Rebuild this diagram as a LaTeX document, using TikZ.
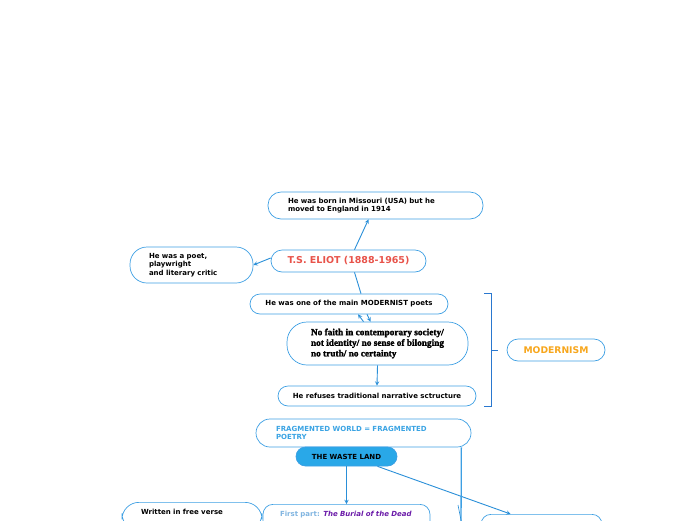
\documentclass[tikz,border=0pt]{standalone}
\usepackage{fontspec}
\setmainfont{DejaVu Sans}
\newfontfamily\heavyserif[BoldFont={* Bold}, BoldFeatures={FakeBold=2}]{Liberation Serif}
\usepackage{tikz}
\definecolor{linkblue}{HTML}{3D9FE3}
\definecolor{arrowblue}{HTML}{2A8FD8}
\definecolor{bracketblue}{HTML}{2A78CF}
\definecolor{eliotred}{HTML}{E8534A}
\definecolor{modorange}{HTML}{F7A61C}
\definecolor{fragblue}{HTML}{3AA3E3}
\definecolor{wastefill}{HTML}{29A8E8}
\definecolor{partgrey}{HTML}{7FB4E0}
\definecolor{titlepurple}{HTML}{6A1AA8}
\tikzstyle{bubble} = [rectangle, rounded corners=10pt, draw=linkblue, line width=0.7pt, font=\fontsize{7}{8.8}\selectfont\bfseries, inner ysep=3pt]
\tikzstyle{arrow} = [draw=arrowblue, line width=0.9pt, ->, >=stealth]
\tikzstyle{bracket} = [draw=bracketblue, line width=0.9pt]

\begin{document}
\begin{tikzpicture}[x=1pt, y=-1pt]
    \useasboundingbox (0,0) rectangle (696,520);
    \clip (0,0) rectangle (696,520);
    % Eliot and his life
    \node (eliot) [bubble, rounded corners=11pt, minimum width=155pt, minimum height=22pt, text=eliotred, font=\fontsize{9.5}{11}\selectfont\bfseries] at (348.5,261) {T.S. ELIOT (1888-1965)};
    \node (born) [bubble, rounded corners=13pt, minimum width=215pt, minimum height=27pt, text width=175pt, inner xsep=20pt, align=left] at (375.5,205.5) {He was born in Missouri (USA) but he\\moved to England in 1914};
    \node (poet) [bubble, rounded corners=17pt, minimum width=123pt, minimum height=36pt, text width=85pt, inner xsep=19pt, align=left] at (191.5,265) {He was a poet,\\playwright\\and literary critic};
    % modernism
    \node (modernist) [bubble, minimum width=198pt, minimum height=20pt] at (349,304) {He was one of the main MODERNIST poets};
    \node (nofaith) [bubble, rounded corners=20pt, minimum width=181pt, minimum height=43pt, align=left, font=\fontsize{9.3}{10.6}\selectfont\heavyserif\bfseries] at (377.5,343.5) {No faith in contemporary society/\\not identity/ no sense of bilonging\\no truth/ no certainty};
    \node (refuses) [bubble, minimum width=198pt, minimum height=20pt] at (377,396) {He refuses traditional narrative sctructure};
    \node (modernism) [bubble, rounded corners=11pt, minimum width=98pt, minimum height=22pt, text=modorange, font=\fontsize{9.2}{10}\selectfont\bfseries] at (556,350) {MODERNISM};
    % the waste land
    \node (frag) [bubble, rounded corners=14pt, minimum width=215pt, minimum height=28pt, text width=175pt, inner xsep=20pt, align=left, text=fragblue] at (363.5,433) {FRAGMENTED WORLD = FRAGMENTED\\POETRY};
    \node (waste) [bubble, rounded corners=9.5pt, fill=wastefill, minimum width=101pt, minimum height=19pt] at (346.5,456.5) {THE WASTE LAND};
    \node (first) [bubble, anchor=north, minimum width=167pt, text width=133pt, inner xsep=17pt, inner ysep=7pt, align=left] at (346.5,504) {\mbox{\textcolor{partgrey}{First part:} \textcolor{titlepurple}{\itshape The Burial of the Dead}}\\ \mbox{}};
    \node (written) [bubble, rounded corners=17pt, anchor=north, minimum width=140pt, text width=102pt, inner xsep=19pt, inner ysep=7pt, align=left] at (192,502) {Written in free verse\\ \mbox{}};
    \node (right) [bubble, anchor=north, minimum width=121pt, minimum height=30pt] at (541.5,514) {};
    \coordinate (fragend) at (461,530);
    \coordinate (thintop) at (458,505);
    \coordinate (thinend) at (462,525);

    \draw [arrow] ([xshift=6pt]eliot.north) -- ([xshift=-7pt]born.south);
    \draw [arrow] ([yshift=3pt]eliot.west) -- (poet.east);
    \draw [draw=arrowblue, line width=0.9pt] ([xshift=6pt]eliot.south) -- ([xshift=12pt]modernist.north);
    \draw [arrow] ([xshift=-14pt]nofaith.north) -- ([xshift=9pt]modernist.south);
    \draw [arrow] ([xshift=18pt]modernist.south) -- ([xshift=-7pt]nofaith.north);
    \draw [arrow] (nofaith.south) -- (refuses.north);
    \draw [bracket] ([xshift=36pt]modernist.north east) -- ++(7,0) |- ([xshift=8pt]refuses.south east);
    \draw [bracket] ([xshift=-9pt]modernism.west) -- ++(-7,0);
    \draw [arrow] (waste.south) -- (first.north);
    \draw [arrow] ([xshift=31pt]waste.south) -- ([xshift=-31pt]right.north);
    \draw [draw=linkblue, line width=1.3pt] ([xshift=-10pt]frag.south east) -- (fragend);
    \draw [draw=arrowblue, line width=0.6pt] (thintop) -- (thinend);
\end{tikzpicture}
\end{document}
